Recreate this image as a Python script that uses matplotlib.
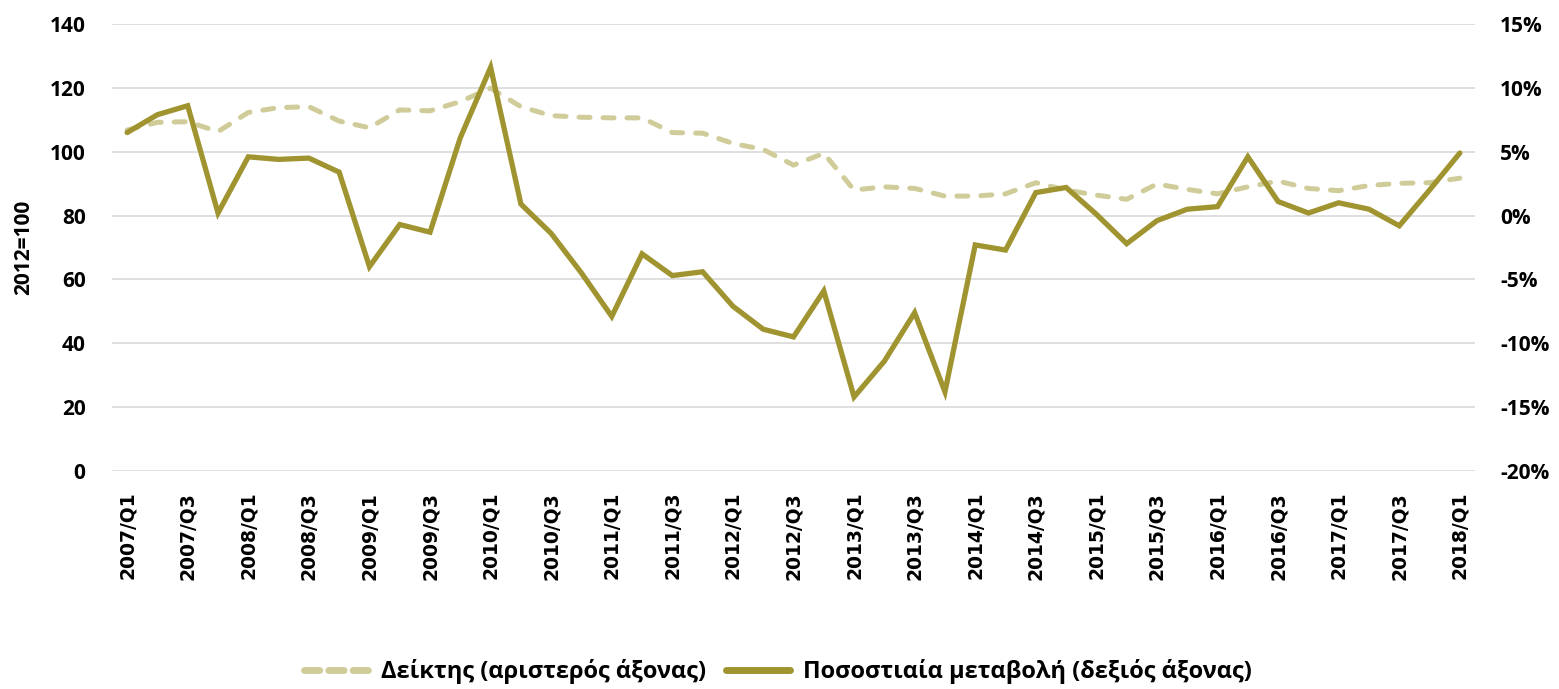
import matplotlib
matplotlib.use("Agg")
import matplotlib.pyplot as plt
from matplotlib.lines import Line2D

quarters = ["2007/Q1", "2007/Q2", "2007/Q3", "2007/Q4",
            "2008/Q1", "2008/Q2", "2008/Q3", "2008/Q4",
            "2009/Q1", "2009/Q2", "2009/Q3", "2009/Q4",
            "2010/Q1", "2010/Q2", "2010/Q3", "2010/Q4",
            "2011/Q1", "2011/Q2", "2011/Q3", "2011/Q4",
            "2012/Q1", "2012/Q2", "2012/Q3", "2012/Q4",
            "2013/Q1", "2013/Q2", "2013/Q3", "2013/Q4",
            "2014/Q1", "2014/Q2", "2014/Q3", "2014/Q4",
            "2015/Q1", "2015/Q2", "2015/Q3", "2015/Q4",
            "2016/Q1", "2016/Q2", "2016/Q3", "2016/Q4",
            "2017/Q1", "2017/Q2", "2017/Q3", "2017/Q4",
            "2018/Q1"]

index_values = [106.8, 109.2, 109.4, 106.3, 112.3, 113.8, 114.1, 109.6, 107.5, 113.1,
                112.8, 115.7, 119.9, 114.1, 111.3, 110.8, 110.6, 110.6, 106.0, 105.8,
                102.6, 100.7, 95.8, 99.5, 88.0, 89.0, 88.5, 86.1, 86.1, 86.8,
                90.3, 88.0, 86.4, 85.1, 89.9, 88.2, 86.8, 89.0, 90.8, 88.5,
                87.8, 89.4, 90.1, 90.3, 91.7]

pct_change = [6.5, 7.9, 8.6, 0.2, 4.6, 4.4, 4.5, 3.4, -4.0, -0.7,
              -1.3, 6.1, 11.6, 0.9, -1.4, -4.5, -7.9, -3.0, -4.7, -4.4,
              -7.1, -8.9, -9.5, -5.9, -14.2, -11.4, -7.6, -13.8, -2.3, -2.7,
              1.8, 2.2, 0.1, -2.2, -0.4, 0.5, 0.7, 4.6, 1.1, 0.2,
              1.0, 0.5, -0.8, 2.0, 4.9]

left_ticks = [0, 20, 40, 60, 80, 100, 120, 140]
right_ticks = [-20, -15, -10, -5, 0, 5, 10, 15]

label_index = "Δείκτης (αριστερός άξονας)"
label_pct = "Ποσοστιαία μεταβολή (δεξιός άξονας)"
ylabel_left = "2012=100"

c_solid = "#a09431"
c_dash = "#d0cc9a"
c_grid = "#d9d9d9"

tick_font = dict(family=["Open Sans", "DejaVu Sans"], weight="bold", size=15)

fig = plt.figure(figsize=(15.59, 6.89), dpi=100)
ax = fig.add_axes([112 / 1559, 1 - 471 / 689, 1363 / 1559, 447 / 689])
ax2 = ax.twinx()

x = list(range(len(quarters)))

ax.plot(x, index_values, color=c_dash, lw=3.6, dashes=(2.2, 2.6),
        dash_capstyle="round", solid_capstyle="round", zorder=3)
ax2.plot(x, pct_change, color=c_solid, lw=3.8, solid_capstyle="round",
         solid_joinstyle="miter", zorder=4)

ax.set_xlim(-0.5, len(quarters) - 0.5)
ax.set_ylim(0, 140)
ax2.set_ylim(-20, 15)
ax.set_yticks(left_ticks)
ax2.set_yticks(right_ticks)

ax.yaxis.grid(True, color=c_grid, lw=1.2)
ax.set_axisbelow(True)

for a in (ax, ax2):
    for s in a.spines.values():
        s.set_visible(False)
    a.tick_params(length=0)

ax.set_xticks(x[::2])
ax.set_xticklabels(quarters[::2], rotation=90, family="DejaVu Sans",
                   weight="bold", size=13.5)
ax.tick_params(axis="x", pad=15)

ax.set_yticklabels([str(v) for v in left_ticks], **tick_font)
ax.tick_params(axis="y", pad=19)
ax2.set_yticklabels([f"{v}%" for v in right_ticks], **tick_font)
ax2.tick_params(axis="y", pad=18)

ax.set_ylabel(ylabel_left, **tick_font)
ax.yaxis.set_label_coords(-0.057, 0.5)

handles = [
    Line2D([], [], color=c_dash, lw=5, dashes=(2.2, 1.3), dash_capstyle="round"),
    Line2D([], [], color=c_solid, lw=5, solid_capstyle="round"),
]
fig.legend(handles, [label_index, label_pct], loc="center",
           bbox_to_anchor=(0.499, 0.025), ncol=2, frameon=False,
           prop=dict(family=["Open Sans", "DejaVu Sans"], weight="bold", size=17),
           handlelength=2.7, handletextpad=0.55, columnspacing=0.85)

fig.savefig("out.png", dpi=100)
